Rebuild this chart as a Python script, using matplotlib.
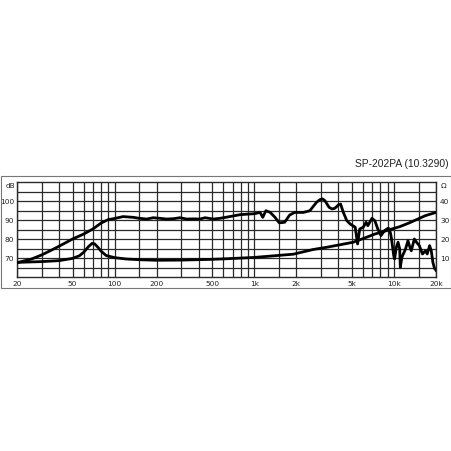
import matplotlib
matplotlib.use("Agg")
import matplotlib.pyplot as plt
from matplotlib.patches import Rectangle

# SPL curve (dB)
spl_freq = [20, 25.5, 30, 35, 40, 45, 50, 60, 70, 80, 90, 100, 115, 136, 150,
            170, 189, 210, 236, 265, 293, 328, 370, 408, 444, 508, 570, 680,
            790, 900, 1000, 1100, 1150, 1210, 1300, 1407, 1510, 1650, 1790,
            1950, 2250, 2500, 2790, 2950, 3080, 3200, 3430, 3600, 3780, 4000,
            4150, 4340, 4600, 4860, 5280, 5490, 5690, 6030, 6320, 6500, 6960,
            7300, 7660, 8080, 8550, 9050, 9300, 9570, 9960, 10100, 10400,
            10700, 11000, 11100, 11400, 12100, 12600, 12900, 13300, 14000,
            14500, 15200, 16000, 16800, 17300, 18000, 18500, 19000, 19500,
            20000]
spl_db = [67.5, 69.5, 71.6, 74.0, 76.2, 78.2, 80.0, 82.6, 85.3, 88.4, 90.2,
          90.8, 91.8, 91.4, 90.9, 90.5, 91.2, 90.9, 90.5, 90.7, 91.2, 90.5,
          90.6, 90.5, 91.2, 90.5, 90.9, 91.9, 92.8, 93.1, 93.3, 94.0, 91.4,
          94.9, 94.0, 91.4, 88.5, 88.8, 92.6, 94.0, 94.0, 94.9, 99.3, 100.7,
          101.1, 100.2, 96.7, 95.8, 96.2, 97.9, 98.4, 94.0, 89.6, 87.9, 86.2,
          77.4, 85.3, 86.2, 88.8, 87.0, 90.9, 89.6, 85.3, 81.8, 84.4, 85.6,
          85.3, 80.9, 71.3, 69.5, 75.6, 78.3, 74.7, 65.1, 70.4, 74.7, 79.1,
          76.5, 73.8, 80.0, 78.3, 76.5, 72.1, 73.8, 72.1, 76.5, 73.8, 67.7,
          64.6, 63.5]

# impedance curve (ohm)
imp_freq = [20, 30, 40, 50, 56, 60, 65, 69, 72, 76, 80, 87, 100, 120, 150,
            200, 300, 500, 630, 1000, 1300, 1900, 2650, 3270, 4000, 5100,
            6000, 7300, 8500, 9700, 11000, 12800, 14500, 16800, 20000]
imp_ohm = [7.7, 8.1, 8.6, 9.8, 11.2, 13.0, 16.0, 17.7, 17.4, 15.6, 13.6, 11.3,
           10.2, 9.5, 9.1, 8.8, 8.9, 9.3, 9.6, 10.3, 11.0, 12.0, 14.5, 15.6,
           16.8, 18.3, 20.2, 22.6, 24.0, 25.3, 26.5, 28.4, 30.2, 32.3, 34.0]

x_ticks = [20, 50, 100, 200, 500, 1000, 2000, 5000, 10000, 20000]
x_labels = ["20", "50", "100", "200", "500", "1k", "2k", "5k", "10k", "20k"]
db_ticks = [70, 80, 90, 100]
ohm_ticks = [10, 20, 30, 40]

grid_freqs = ([20, 30, 40, 50, 60, 70, 80, 90, 100, 150]
              + list(range(200, 1001, 100)) + [1500]
              + list(range(2000, 10001, 1000)) + [15000, 20000])

W, H = 452, 452
fig = plt.figure(figsize=(4.52, 4.52), dpi=100)
fig.patch.set_facecolor("white")

# outer frame
fig.patches.append(Rectangle((1 / W, 1 - 289 / H), 450 / W, 112 / H,
                             transform=fig.transFigure, fill=False,
                             edgecolor="#777777", linewidth=0.8))

fig.text(449 / W, 1 - 164 / H, "SP-202PA (10.3290)", ha="right", va="center",
         fontsize=7.4, family="Liberation Sans", color="#222222")

ax = fig.add_axes([17 / W, 1 - 278 / H, 419 / W, 95 / H])
ax.set_xscale("log")
ax.set_xlim(20, 20000)
ax.set_ylim(60, 110)

for f in grid_freqs:
    ax.axvline(f, color="#2a2a2a", linewidth=0.9, zorder=1)
for v in range(65, 110, 5):
    ax.axhline(v, color="#2a2a2a", linewidth=0.9, zorder=1)
for s in ax.spines.values():
    s.set_color("#2a2a2a")
    s.set_linewidth(1.0)

ax.plot(spl_freq, spl_db, color="black", linewidth=2.0, zorder=3,
        solid_joinstyle="round")

ax.set_xticks(x_ticks)
ax.set_xticklabels(x_labels)
ax.xaxis.set_minor_locator(matplotlib.ticker.NullLocator())
ax.set_yticks(db_ticks)
ax.tick_params(length=0, labelsize=5.3, colors="#222222", pad=2)
ax.tick_params(axis="x", pad=2.5)
ax.text(-0.004, 108.3, "dB", transform=ax.get_yaxis_transform(),
        ha="right", va="center", fontsize=5.3, color="#222222")

ax2 = ax.twinx()
ax2.set_ylim(0, 50)
ax2.plot(imp_freq, imp_ohm, color="black", linewidth=2.0, zorder=3,
         solid_joinstyle="round")
ax2.set_yticks(ohm_ticks)
ax2.tick_params(length=0, labelsize=5.3, colors="#222222", pad=3)
ax2.text(1.01, 48.3, "Ω", transform=ax2.get_yaxis_transform(),
         ha="left", va="center", fontsize=5.3, color="#222222")
for s in ax2.spines.values():
    s.set_visible(False)

fig.savefig("out.png", dpi=100, facecolor="white")
